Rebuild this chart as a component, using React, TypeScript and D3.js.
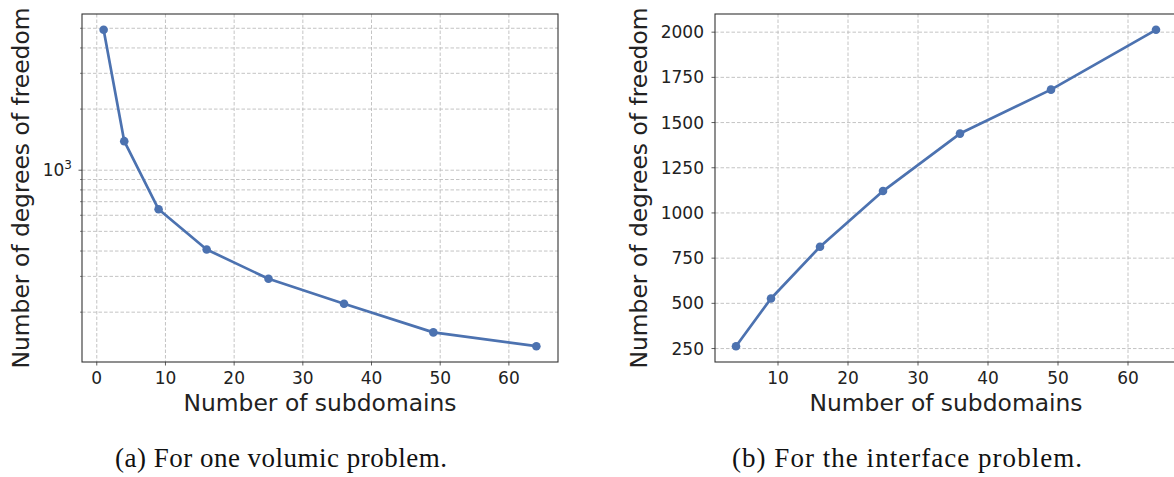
import React from "react";
import * as d3 from "d3";

// Subdomain counts and degrees of freedom per problem
const volumicSubdomains = [1, 4, 9, 16, 25, 36, 49, 64];
const volumicDofs = [4913, 1390, 642, 407, 292, 220, 159, 136];

const interfaceSubdomains = [4, 9, 16, 25, 36, 49, 64];
const interfaceDofs = [263, 527, 813, 1121, 1439, 1682, 2013];

const xTicks = [0, 10, 20, 30, 40, 50, 60];
const logMinorTicks = [200, 300, 400, 500, 600, 700, 800, 900, 2000, 3000, 4000, 5000];
const linearYTicks = [250, 500, 750, 1000, 1250, 1500, 1750, 2000];

const xLabel = "Number of subdomains";
const yLabel = "Number of degrees of freedom";
const captions = ["(a) For one volumic problem.", "(b) For the interface problem."];

const W = 1174;
const H = 477;
const LINE = "#4c72b0";
const GRID = "#bdbdbd";
const SPINE = "#333";
const SANS = "'DejaVu Sans', sans-serif";
const SERIF = "'Liberation Serif', serif";
const LABEL_SIZE = 23.4;

function padDomain(lo: number, hi: number, frac = 0.05): [number, number] {
  const m = (hi - lo) * frac;
  return [lo - m, hi + m];
}

type Panel = {
  left: number;
  right: number;
  top: number;
  bottom: number;
};

function Frame({ p, clipId }: { p: Panel; clipId: string }) {
  return (
    <defs>
      <clipPath id={clipId}>
        <rect x={p.left} y={p.top} width={p.right - p.left} height={p.bottom - p.top} />
      </clipPath>
    </defs>
  );
}

function XAxis({ p, x }: { p: Panel; x: d3.ScaleLinear<number, number> }) {
  const ticks = xTicks.filter((t) => x(t) >= p.left - 0.5 && x(t) <= p.right + 0.5);
  return (
    <g>
      {ticks.map((t) => (
        <g key={t}>
          <line x1={x(t)} x2={x(t)} y1={p.bottom} y2={p.bottom + 3.5} stroke={SPINE} strokeWidth={0.8} />
          <text x={x(t)} y={p.bottom + 22} fontSize={17} textAnchor="middle" fontFamily={SANS} fill="#222">
            {t}
          </text>
        </g>
      ))}
      <text
        x={(p.left + p.right) / 2}
        y={p.bottom + 49}
        fontSize={LABEL_SIZE}
        textAnchor="middle"
        fontFamily={SANS}
        fill="#222"
      >
        {xLabel}
      </text>
    </g>
  );
}

function LeftChart() {
  const p: Panel = { left: 82, right: 558, top: 14, bottom: 362 };
  const x = d3.scaleLinear().domain(padDomain(d3.min(volumicSubdomains)!, d3.max(volumicSubdomains)!)).range([p.left, p.right]);
  const [lo, hi] = padDomain(
    Math.log10(d3.min(volumicDofs)!),
    Math.log10(d3.max(volumicDofs)!)
  );
  const y = d3.scaleLog().domain([10 ** lo, 10 ** hi]).range([p.bottom, p.top]);
  const pts = volumicSubdomains.map((s, i) => [x(s), y(volumicDofs[i])] as [number, number]);
  const line = d3.line();
  const yGrid = [1000, ...logMinorTicks];
  return (
    <g>
      <Frame p={p} clipId="clipA" />
      <g clipPath="url(#clipA)">
        {xTicks.map((t) => (
          <line key={"gx" + t} x1={x(t)} x2={x(t)} y1={p.top} y2={p.bottom} stroke={GRID} strokeWidth={0.9} strokeDasharray="3.5,2" />
        ))}
        {yGrid.map((t) => (
          <line key={"gy" + t} x1={p.left} x2={p.right} y1={y(t)} y2={y(t)} stroke={GRID} strokeWidth={0.9} strokeDasharray="3.5,2" />
        ))}
      </g>
      <path d={line(pts)!} fill="none" stroke={LINE} strokeWidth={2.7} strokeLinejoin="round" />
      {pts.map(([cx, cy], i) => (
        <circle key={i} cx={cx} cy={cy} r={4.3} fill={LINE} />
      ))}
      <rect x={p.left} y={p.top} width={p.right - p.left} height={p.bottom - p.top} fill="none" stroke={SPINE} strokeWidth={1.1} />
      {/* log-axis ticks */}
      <line x1={p.left - 3.5} x2={p.left} y1={y(1000)} y2={y(1000)} stroke={SPINE} strokeWidth={0.8} />
      {logMinorTicks.map((t) => (
        <line key={"mt" + t} x1={p.left - 2} x2={p.left} y1={y(t)} y2={y(t)} stroke={SPINE} strokeWidth={0.6} />
      ))}
      <text x={p.left - 10} y={y(1000) + 6} fontSize={17} textAnchor="end" fontFamily={SANS} fill="#222">
        10
        <tspan dy={-7} fontSize={12}>3</tspan>
      </text>
      <XAxis p={p} x={x} />
      <text
        transform={`translate(28.5, ${(p.top + p.bottom) / 2}) rotate(-90)`}
        fontSize={LABEL_SIZE}
        textAnchor="middle"
        fontFamily={SANS}
        fill="#222"
      >
        {yLabel}
      </text>
    </g>
  );
}

function RightChart() {
  const p: Panel = { left: 715, right: 1177, top: 14, bottom: 362 };
  const x = d3.scaleLinear().domain(padDomain(d3.min(interfaceSubdomains)!, d3.max(interfaceSubdomains)!)).range([p.left, p.right]);
  const y = d3.scaleLinear().domain(padDomain(d3.min(interfaceDofs)!, d3.max(interfaceDofs)!)).range([p.bottom, p.top]);
  const pts = interfaceSubdomains.map((s, i) => [x(s), y(interfaceDofs[i])] as [number, number]);
  const line = d3.line();
  const gx = xTicks.filter((t) => x(t) >= p.left && x(t) <= p.right);
  return (
    <g>
      <Frame p={p} clipId="clipB" />
      <g clipPath="url(#clipB)">
        {gx.map((t) => (
          <line key={"gx" + t} x1={x(t)} x2={x(t)} y1={p.top} y2={p.bottom} stroke={GRID} strokeWidth={0.9} strokeDasharray="3.5,2" />
        ))}
        {linearYTicks.map((t) => (
          <line key={"gy" + t} x1={p.left} x2={p.right} y1={y(t)} y2={y(t)} stroke={GRID} strokeWidth={0.9} strokeDasharray="3.5,2" />
        ))}
      </g>
      <path d={line(pts)!} fill="none" stroke={LINE} strokeWidth={2.7} strokeLinejoin="round" />
      {pts.map(([cx, cy], i) => (
        <circle key={i} cx={cx} cy={cy} r={4.3} fill={LINE} />
      ))}
      <rect x={p.left} y={p.top} width={p.right - p.left} height={p.bottom - p.top} fill="none" stroke={SPINE} strokeWidth={1.1} />
      {linearYTicks.map((t) => (
        <g key={"yt" + t}>
          <line x1={p.left - 3.5} x2={p.left} y1={y(t)} y2={y(t)} stroke={SPINE} strokeWidth={0.8} />
          <text x={p.left - 11} y={y(t) + 6} fontSize={17} textAnchor="end" fontFamily={SANS} fill="#222">
            {t}
          </text>
        </g>
      ))}
      <XAxis p={p} x={x} />
      <text
        transform={`translate(646.5, ${(p.top + p.bottom) / 2}) rotate(-90)`}
        fontSize={LABEL_SIZE}
        textAnchor="middle"
        fontFamily={SANS}
        fill="#222"
      >
        {yLabel}
      </text>
    </g>
  );
}

export default function App() {
  return (
    <svg
      width={W}
      height={H}
      viewBox={`0 0 ${W} ${H}`}
      style={{ position: "absolute", left: 0, top: 0, background: "#fff" }}
    >
      <rect width={W} height={H} fill="#fff" />
      <LeftChart />
      <RightChart />
      <text x={115} y={467} fontSize={27} textLength={332} lengthAdjust="spacing" fontFamily={SERIF} fill="#111">
        {captions[0]}
      </text>
      <text x={732} y={467} fontSize={27} textLength={350} lengthAdjust="spacing" fontFamily={SERIF} fill="#111">
        {captions[1]}
      </text>
    </svg>
  );
}
